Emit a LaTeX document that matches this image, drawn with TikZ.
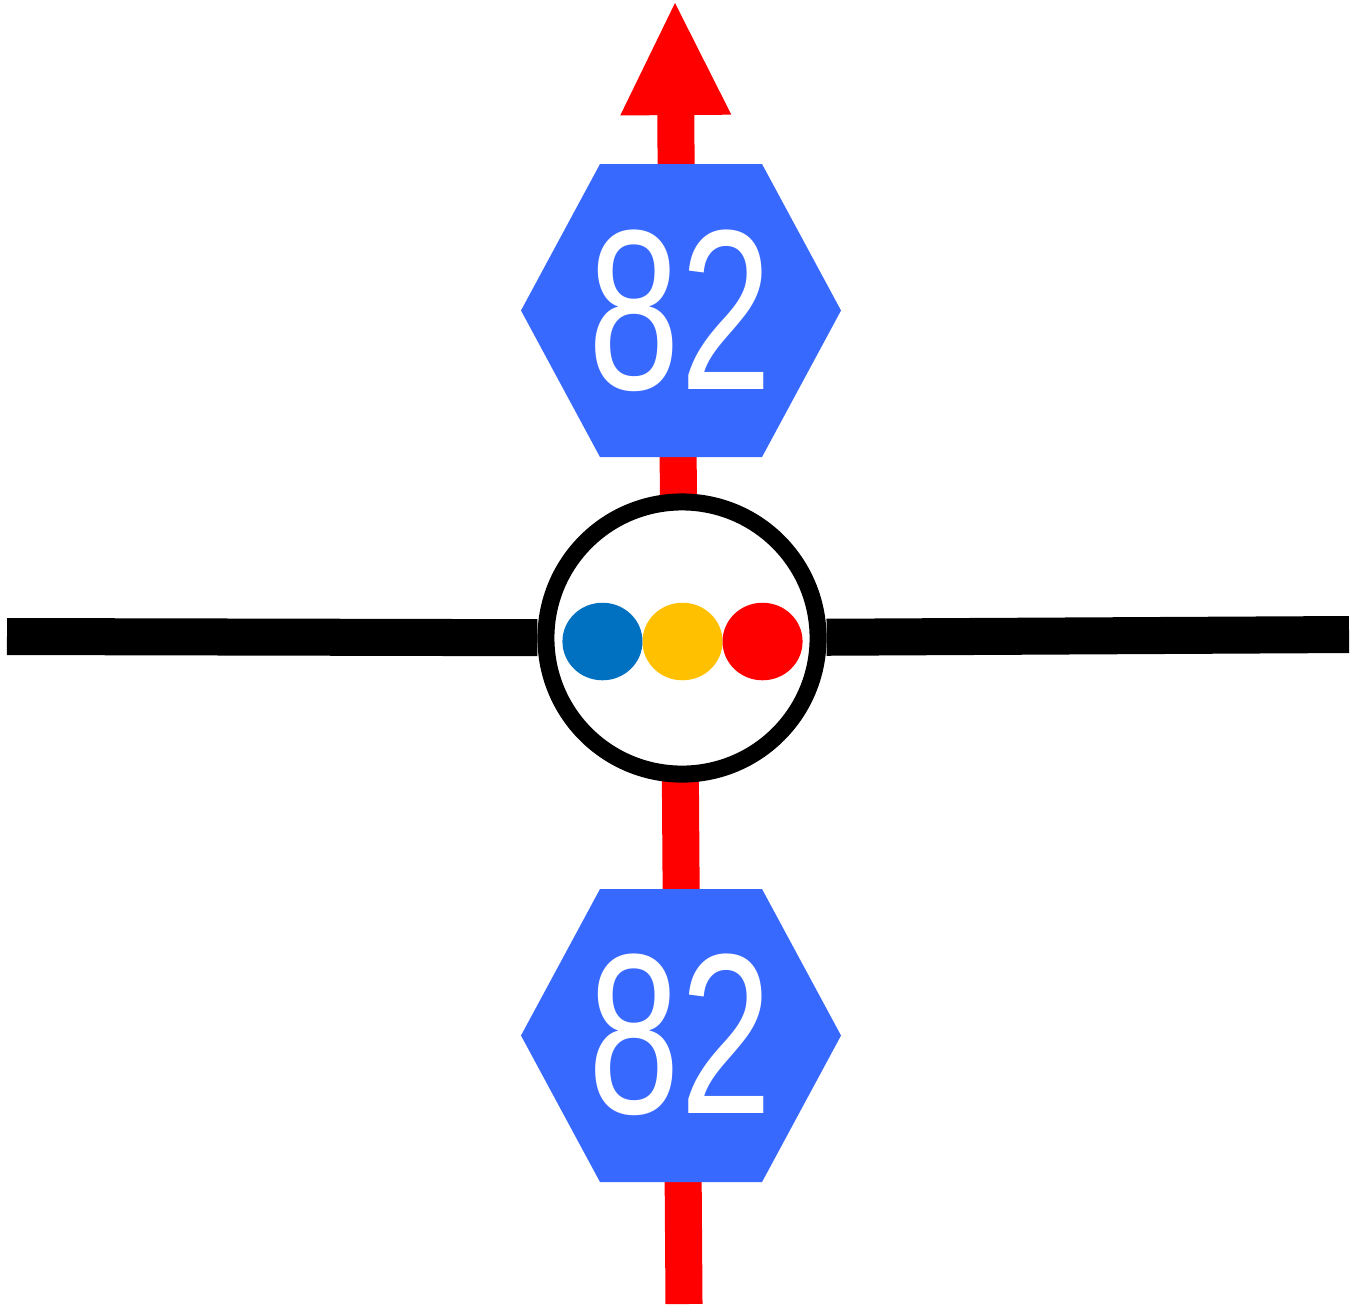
\documentclass[tikz,border=0pt]{standalone}
\usepackage{fontspec}
\setmainfont{Liberation Sans}
\usetikzlibrary{arrows.meta,shapes.geometric,positioning}
\definecolor{signblue}{HTML}{3869FF}
\definecolor{dotblue}{HTML}{0070C0}
\definecolor{dotyellow}{HTML}{FFC000}
\definecolor{dotred}{HTML}{FF0000}
\tikzstyle{route} = [red, line width=0.37cm, -{Triangle[length=1.12cm,width=1.11cm,line width=0pt]}]
\tikzstyle{road} = [black, line width=0.37cm]
\tikzstyle{hub} = [circle, draw, fill=white, line width=0.17cm, minimum size=2.72cm, inner sep=0pt]
\tikzstyle{light} = [ellipse, minimum width=0.8cm, minimum height=0.775cm, inner sep=0pt, outer sep=0pt]
\tikzstyle{number} = [text=white, inner sep=0pt, font=\fontsize{65}{65}\selectfont]

\begin{document}
\begin{tikzpicture}[x=0.01cm,y=-0.01cm]
\useasboundingbox (0,0) rectangle (1364,1305);
\def\hexN{(600,164) -- (762,164) -- (841,310.5) -- (762,457) -- (600,457) -- (521,310.5) -- cycle}
\def\hexS{(600,889) -- (762,889) -- (841,1035.5) -- (762,1182) -- (600,1182) -- (521,1035.5) -- cycle}
\coordinate (routeS) at (684,1304);
\coordinate (routeN) at (675,3);
\coordinate (roadW) at (7,636.5);
\coordinate (roadE) at (1349,634.5);
\draw[route] (routeS) -- (routeN);
\fill[signblue] \hexN;
\fill[signblue] \hexS;
\node[number] (shieldN) at (680.5,310.5) {\scalebox{.72}[1]{82}};
\node[number] (shieldS) at (680.5,1035) {\scalebox{.72}[1]{82}};
\node[hub] (junction) at (682,638) {};
\draw[road] (roadW) -- (junction) -- (roadE);
\node[light, fill=dotyellow] (amber) at (682.5,641.5) {};
\node[light, fill=dotblue, left=0pt of amber] (blue) {};
\node[light, fill=dotred, right=0pt of amber] (stop) {};
\end{tikzpicture}
\end{document}
